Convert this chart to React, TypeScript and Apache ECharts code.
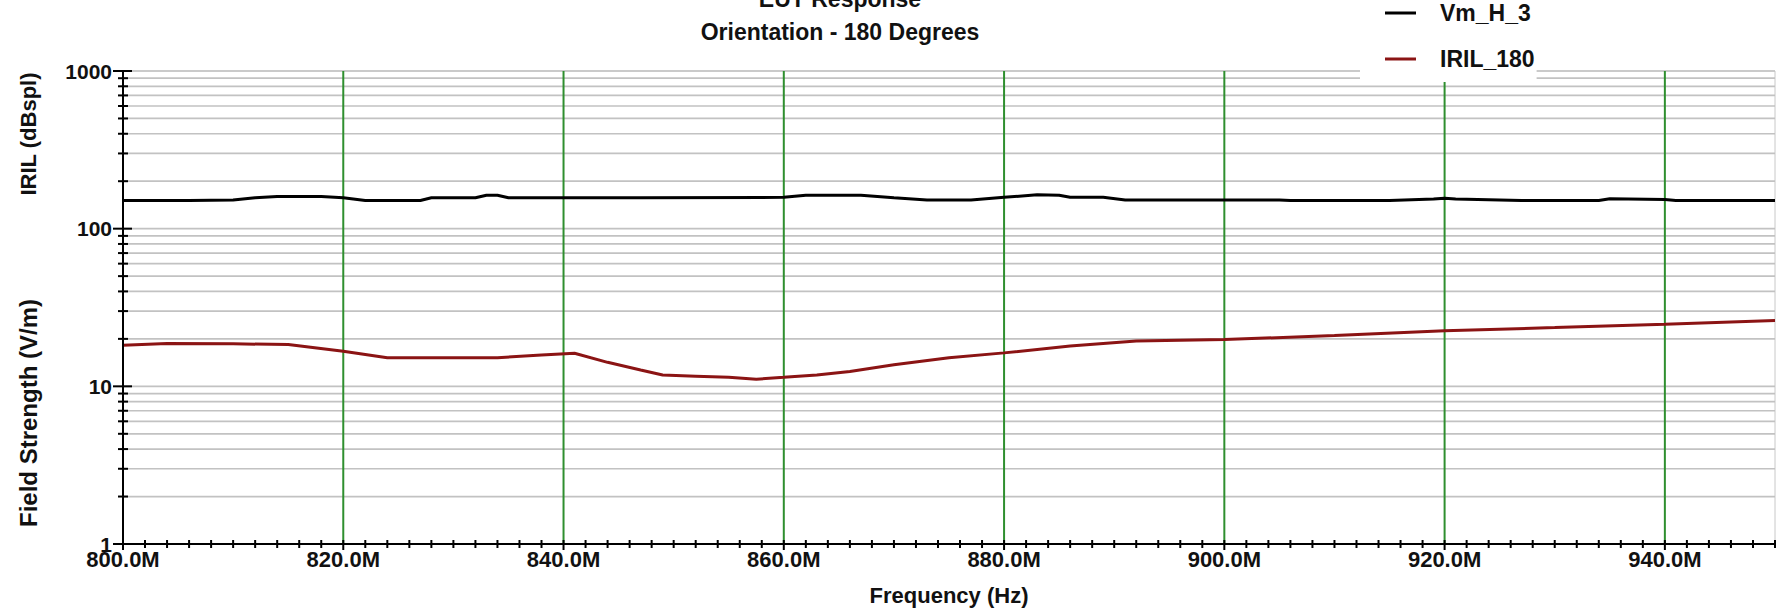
import React, { useEffect, useRef } from 'react';
import * as echarts from 'echarts';

// ---- Data (frequency in MHz) ----
const vmFreq = [800, 806, 810, 812, 814, 818, 820, 822, 827, 828, 832, 833, 834, 835, 847, 860, 862, 867, 870, 873, 877, 880, 883, 885, 886, 889, 891, 895, 905, 906, 915, 919, 920, 921, 927, 934, 935, 940, 941, 950];
const vmVals = [151, 151, 152, 157, 160, 160, 157, 151, 151, 157, 157, 163, 163, 157, 157, 158, 163, 163, 157, 152, 152, 158, 164, 163, 158, 158, 152, 152, 152, 151, 151, 154, 156, 154, 151, 151, 155, 153, 151, 151];

const irilFreq = [800, 804, 810, 815, 820, 824, 834, 838, 841, 844, 847, 849, 852, 855, 857.5, 860, 863, 866, 870, 875, 880, 886, 892, 896, 900, 910, 920, 930, 940, 950];
const irilVals = [18.2, 18.7, 18.6, 18.4, 16.7, 15.2, 15.2, 15.8, 16.2, 14.2, 12.7, 11.8, 11.6, 11.4, 11.1, 11.4, 11.8, 12.4, 13.7, 15.2, 16.3, 18.0, 19.4, 19.6, 19.8, 21.0, 22.5, 23.6, 24.8, 26.2];

// ---- Axis helpers ----
const yGridVals = [1, 2, 3, 4, 5, 6, 7, 8, 9, 10, 20, 30, 40, 50, 60, 70, 80, 90, 100, 200, 300, 400, 500, 600, 700, 800, 900, 1000];
const greenFreqs = [820, 840, 860, 880, 900, 920, 940];
const xTickFreqs = [800, 802, 804, 806, 808, 810, 812, 814, 816, 818, 820, 822, 824, 826, 828, 830, 832, 834, 836, 838, 840, 842, 844, 846, 848, 850, 852, 854, 856, 858, 860, 862, 864, 866, 868, 870, 872, 874, 876, 878, 880, 882, 884, 886, 888, 890, 892, 894, 896, 898, 900, 902, 904, 906, 908, 910, 912, 914, 916, 918, 920, 922, 924, 926, 928, 930, 932, 934, 936, 938, 940, 942, 944, 946, 948, 950];

const X_MIN = 800;
const X_MAX = 950;
const FONT = '"Liberation Sans", Arial, Helvetica, sans-serif';

export default function App() {
  const ref = useRef<HTMLDivElement>(null);

  useEffect(() => {
    if (!ref.current) return;
    const chart = echarts.init(ref.current, null, { renderer: 'svg' });

    const option: any = {
      animation: false,
      backgroundColor: '#ffffff',
      grid: {
        left: 123,
        right: 10,
        top: 71,
        bottom: 70,
        show: true,
        borderColor: '#c8c8c8',
        borderWidth: 1,
        outerBoundsMode: 'none',
      },
      legend: {
        orient: 'vertical',
        left: 1360,
        top: 0,
        padding: [0, 2, 10, 25],
        backgroundColor: '#ffffff',
        icon: 'rect',
        itemWidth: 31,
        itemHeight: 3,
        itemGap: 20,
        textStyle: {
          fontFamily: FONT,
          fontSize: 23,
          fontWeight: 'bold',
          color: '#111',
          lineHeight: 26,
          padding: [0, 0, 0, 19],
        },
        data: ['Vm_H_3', 'IRIL_180'],
      },
      graphic: [
        {
          type: 'text',
          x: 840,
          y: -1,
          silent: true,
          style: {
            text: 'EUT Response',
            fontFamily: FONT,
            fontSize: 23,
            fontWeight: 'bold',
            fill: '#111',
            textAlign: 'center',
            textVerticalAlign: 'middle',
            align: 'center',
            verticalAlign: 'middle',
          },
        },
        {
          type: 'text',
          x: 840,
          y: 32,
          silent: true,
          style: {
            text: 'Orientation - 180 Degrees',
            fontFamily: FONT,
            fontSize: 23,
            fontWeight: 'bold',
            fill: '#111',
            textAlign: 'center',
            textVerticalAlign: 'middle',
            align: 'center',
            verticalAlign: 'middle',
          },
        },
        {
          type: 'text',
          x: 28,
          y: 134,
          rotation: Math.PI / 2,
          silent: true,
          style: {
            text: 'IRIL (dBspl)',
            fontFamily: FONT,
            fontSize: 22,
            fontWeight: 'bold',
            fill: '#111',
            textAlign: 'center',
            textVerticalAlign: 'middle',
            align: 'center',
            verticalAlign: 'middle',
          },
        },
        {
          type: 'text',
          x: 28,
          y: 413,
          rotation: Math.PI / 2,
          silent: true,
          style: {
            text: 'Field Strength (V/m)',
            fontFamily: FONT,
            fontSize: 24,
            fontWeight: 'bold',
            fill: '#111',
            textAlign: 'center',
            textVerticalAlign: 'middle',
            align: 'center',
            verticalAlign: 'middle',
          },
        },
      ],
      xAxis: {
        type: 'value',
        min: X_MIN,
        max: X_MAX,
        interval: 20,
        z: 5,
        name: 'Frequency (Hz)',
        nameLocation: 'middle',
        nameGap: 40,
        nameTextStyle: { fontFamily: FONT, fontSize: 22, fontWeight: 'bold', color: '#111' },
        axisLine: { show: true, onZero: false, lineStyle: { color: '#000', width: 2 } },
        axisTick: { show: false },
        splitLine: { show: false },
        axisLabel: {
          margin: 4,
          fontFamily: FONT,
          fontSize: 22,
          fontWeight: 'bold',
          color: '#111',
          formatter: (v: number) => (v % 20 === 0 ? v.toFixed(1) + 'M' : ''),
        },
      },
      yAxis: {
        type: 'log',
        logBase: 10,
        min: 1,
        max: 1000,
        z: 5,
        axisLine: { show: true, lineStyle: { color: '#000', width: 2 } },
        axisTick: { show: false },
        splitLine: { show: false },
        axisLabel: {
          margin: 11,
          fontFamily: FONT,
          fontSize: 21,
          fontWeight: 'bold',
          color: '#111',
          formatter: (v: number) => String(Math.round(v)),
        },
      },
      series: [
        {
          type: 'custom',
          name: 'hgrid',
          silent: true,
          z: 1,
          data: yGridVals.map((v) => [X_MIN, v]),
          renderItem: (params: any, api: any) => {
            const cs = params.coordSys;
            const v = api.value(1);
            const y = api.coord([api.value(0), v])[1];
            const lg = Math.log10(v);
            const major = Math.abs(lg - Math.round(lg)) < 1e-6;
            return {
              type: 'group',
              children: [
                {
                  type: 'line',
                  shape: { x1: cs.x + 1, y1: y, x2: cs.x + cs.width, y2: y },
                  style: { stroke: '#c2c2c2', lineWidth: 1.7 },
                },
                {
                  type: 'line',
                  shape: { x1: cs.x - (major ? 10 : 5), y1: y, x2: cs.x + (major ? 9 : 5), y2: y },
                  style: { stroke: '#000', lineWidth: 2 },
                },
              ],
            };
          },
        },
        {
          type: 'custom',
          name: 'vgrid',
          silent: true,
          z: 1,
          data: greenFreqs.map((f) => [f, 1]),
          renderItem: (params: any, api: any) => {
            const cs = params.coordSys;
            const x = api.coord([api.value(0), api.value(1)])[0];
            return {
              type: 'line',
              shape: { x1: x, y1: cs.y, x2: x, y2: cs.y + cs.height },
              style: { stroke: '#2f8f2f', lineWidth: 2 },
            };
          },
        },
        {
          type: 'custom',
          name: 'xticks',
          silent: true,
          z: 6,
          data: xTickFreqs.map((f) => [f, 1]),
          renderItem: (params: any, api: any) => {
            const p = api.coord([api.value(0), api.value(1)]);
            const major = api.value(0) % 20 === 0;
            return {
              type: 'line',
              shape: { x1: p[0], y1: p[1] - 4, x2: p[0], y2: p[1] + (major ? 6 : 4) },
              style: { stroke: '#000', lineWidth: 2 },
            };
          },
        },
        {
          type: 'line',
          name: 'Vm_H_3',
          data: vmFreq.map((f, i) => [f, vmVals[i]]),
          showSymbol: false,
          symbol: 'none',
          z: 3,
          color: '#000000',
          lineStyle: { color: '#000000', width: 3 },
        },
        {
          type: 'line',
          name: 'IRIL_180',
          data: irilFreq.map((f, i) => [f, irilVals[i]]),
          showSymbol: false,
          symbol: 'none',
          z: 3,
          color: '#8b1414',
          lineStyle: { color: '#8b1414', width: 3 },
        },
      ],
    };

    chart.setOption(option);
    return () => {
      chart.dispose();
    };
  }, []);

  return (
    <div
      ref={ref}
      style={{ position: 'fixed', left: 0, top: 0, width: 1785, height: 614, background: '#fff' }}
    />
  );
}
